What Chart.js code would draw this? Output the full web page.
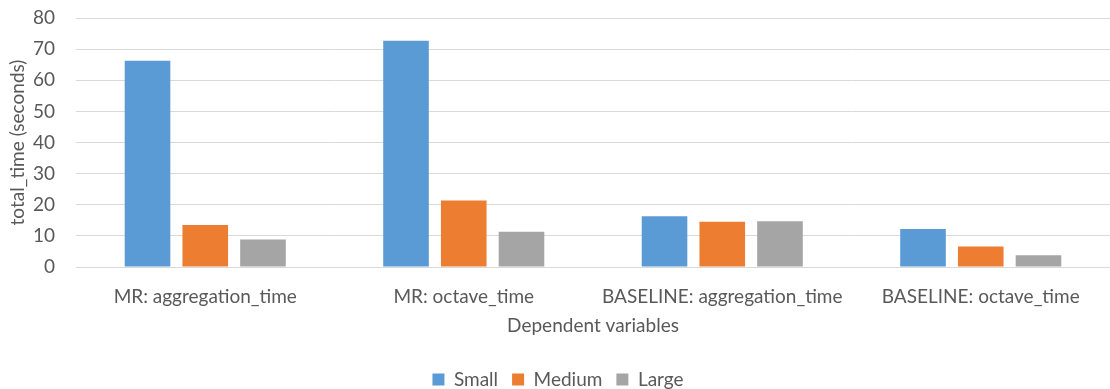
<!DOCTYPE html>
<html>
<head>
<meta charset="utf-8">
<script src="https://cdn.jsdelivr.net/npm/chart.js@4/dist/chart.umd.min.js"></script>
<style>
  html, body { margin: 0; padding: 0; background: #ffffff; }
  #wrap { width: 1110px; height: 389px; position: relative; }
</style>
</head>
<body>
<div id="wrap"><canvas id="c"></canvas></div>
<script>
// Categories and timings (seconds) per dataset size
const categories = ["MR: aggregation_time", "MR: octave_time", "BASELINE: aggregation_time", "BASELINE: octave_time"];
const smallTimes = [66.3, 72.7, 16.3, 12.2];
const mediumTimes = [13.5, 21.4, 14.5, 6.6];
const largeTimes = [8.8, 11.3, 14.7, 3.8];
const yTicks = [0, 10, 20, 30, 40, 50, 60, 70, 80];

const FONT = "Lato, 'Open Sans', sans-serif";
const SIZE = 19;
const TEXT = "#595959";
const GRID = "#d9d9d9";

new Chart(document.getElementById("c"), {
  type: "bar",
  data: {
    labels: categories,
    datasets: [
      { label: "Small", data: smallTimes, backgroundColor: "#5B9BD5" },
      { label: "Medium", data: mediumTimes, backgroundColor: "#ED7D31" },
      { label: "Large", data: largeTimes, backgroundColor: "#A5A5A5" }
    ]
  },
  options: {
    responsive: true,
    maintainAspectRatio: false,
    animation: false,
    datasets: { bar: { categoryPercentage: 0.67, barPercentage: 0.79 } },
    layout: { padding: { top: 0, right: 0, left: 6, bottom: -10 } },
    plugins: {
      tooltip: { enabled: false },
      legend: {
        position: "bottom",
        labels: {
          color: TEXT,
          font: { family: FONT, size: SIZE },
          boxWidth: 12,
          boxHeight: 12,
          padding: 14
        }
      }
    },
    scales: {
      x: {
        grid: { display: false, drawTicks: false },
        border: { display: true, color: GRID, width: 1 },
        ticks: { color: TEXT, font: { family: FONT, size: SIZE }, padding: 18, maxRotation: 0 },
        title: {
          display: true,
          text: "Dependent variables",
          color: TEXT,
          font: { family: FONT, size: SIZE },
          padding: { top: 0, bottom: 19 }
        },
        // fixed band for category labels and axis title
        afterFit: (axis) => { axis.height = 89; }
      },
      y: {
        min: 0,
        max: 80,
        afterBuildTicks: (axis) => { axis.ticks = yTicks.map(v => ({ value: v })); },
        grid: { color: GRID, lineWidth: 1, drawTicks: false },
        border: { display: false },
        ticks: { color: TEXT, font: { family: FONT, size: SIZE }, padding: 21 },
        title: {
          display: true,
          text: "total_time (seconds)",
          color: TEXT,
          font: { family: FONT, size: SIZE },
          padding: { top: 0, bottom: 0 }
        },
        // fixed band for tick labels and axis title, top inset for the "80" label
        afterFit: (axis) => { axis.width = 70; axis.paddingTop = 18; }
      }
    }
  }
});
</script>
</body>
</html>
